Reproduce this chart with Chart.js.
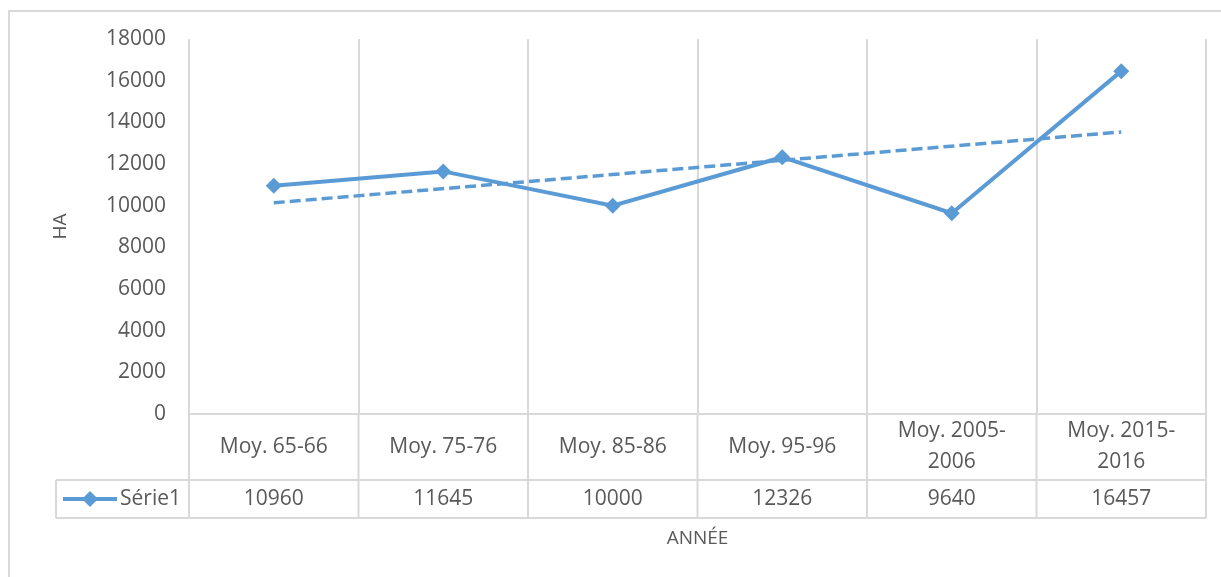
<!DOCTYPE html>
<html>
<head>
<meta charset="utf-8">
<script src="https://cdn.jsdelivr.net/npm/chart.js@4/dist/chart.umd.min.js"></script>
<style>
  body { margin: 0; background: #fff; }
  #wrap { width: 1221px; height: 577px; position: relative; }
</style>
</head>
<body>
<div id="wrap"><canvas id="chart"></canvas></div>
<script>
// Data
const CATEGORIES = ['Moy. 65-66', 'Moy. 75-76', 'Moy. 85-86', 'Moy. 95-96', ['Moy. 2005-', '2006'], ['Moy. 2015-', '2016']];
const SERIE1     = [10960, 11645, 10000, 12326, 9640, 16457];
const TREND      = [10138, null, null, null, null, 13538];   // linear trend line ends
const Y_TICKS    = [0, 2000, 4000, 6000, 8000, 10000, 12000, 14000, 16000, 18000];

const BLUE  = '#5B9BD5';
const TEXT  = '#595959';
const LINES = '#d9d9d9';
const FONT  = '"Open Sans", sans-serif';

// ── Excel-style data table under the plot ─────────────────────────
const tablePlugin = {
  id: 'dataTable',
  beforeDraw(chart) {
    const ctx = chart.ctx;
    ctx.save();
    ctx.strokeStyle = LINES;
    ctx.lineWidth = 2;
    ctx.strokeRect(9, 11, 1240, 620);
    ctx.restore();
  },
  afterDraw(chart) {
    const ctx = chart.ctx;
    const xs = chart.scales.x;
    const area = chart.chartArea;
    const n = CATEGORIES.length;
    const step = (area.right - area.left) / n;
    const rowTop = area.bottom, rowMid = 480, rowBot = 518;

    ctx.save();
    ctx.strokeStyle = LINES;
    ctx.lineWidth = 2;
    // horizontal rules
    ctx.beginPath();
    ctx.moveTo(area.left, rowTop); ctx.lineTo(area.right, rowTop);
    ctx.moveTo(56, rowMid);        ctx.lineTo(area.right, rowMid);
    ctx.moveTo(56, rowBot);        ctx.lineTo(area.right, rowBot);
    // vertical rules below the plot
    for (let i = 0; i <= n; i++) {
      const x = area.left + i * step;
      ctx.moveTo(x, rowTop); ctx.lineTo(x, rowBot);
    }
    ctx.moveTo(56, rowMid); ctx.lineTo(56, rowBot);
    ctx.stroke();

    // category labels and values
    ctx.fillStyle = TEXT;
    ctx.font = '21px ' + FONT;
    ctx.textAlign = 'center';
    ctx.textBaseline = 'middle';
    const lh = 31;
    CATEGORIES.forEach((c, i) => {
      const x = xs.getPixelForValue(i);
      const lines = Array.isArray(c) ? c : [c];
      const y0 = (rowTop + rowMid) / 2 - (lines.length - 1) * lh / 2;
      lines.forEach((t, k) => ctx.fillText(t, x, y0 + k * lh));
      ctx.fillText(String(SERIE1[i]), x, (rowMid + rowBot) / 2);
    });

    // legend key
    const ly = (rowMid + rowBot) / 2;
    ctx.strokeStyle = BLUE;
    ctx.lineWidth = 4;
    ctx.beginPath(); ctx.moveTo(63, ly); ctx.lineTo(117, ly); ctx.stroke();
    ctx.fillStyle = BLUE;
    ctx.beginPath();
    ctx.moveTo(90, ly - 8); ctx.lineTo(98, ly); ctx.lineTo(90, ly + 8); ctx.lineTo(82, ly);
    ctx.closePath(); ctx.fill();
    ctx.fillStyle = TEXT;
    ctx.textAlign = 'right';
    ctx.fillText('Série1', 181, ly);
    ctx.restore();
  }
};

new Chart(document.getElementById('chart'), {
  type: 'line',
  data: {
    labels: CATEGORIES,
    datasets: [
      {
        label: 'Série1',
        data: SERIE1,
        borderColor: BLUE,
        backgroundColor: BLUE,
        borderWidth: 4,
        pointStyle: 'rectRot',
        pointRadius: 8,
        pointHoverRadius: 8,
        pointBorderWidth: 0,
        tension: 0,
        order: 1
      },
      {
        label: 'Tendance',
        data: TREND,
        spanGaps: true,
        borderColor: BLUE,
        borderWidth: 3.5,
        borderDash: [11, 5],
        pointRadius: 0,
        tension: 0,
        order: 2
      }
    ]
  },
  options: {
    responsive: true,
    maintainAspectRatio: false,
    animation: false,
    layout: { padding: { left: 0, top: 39, right: 15, bottom: 0 } },
    plugins: { legend: { display: false }, tooltip: { enabled: false } },
    scales: {
      x: {
        offset: true,
        grid: { offset: true, color: LINES, lineWidth: 2, drawTicks: false },
        border: { display: false },
        ticks: { display: false },
        title: { display: true, text: 'ANNÉE', color: TEXT, font: { family: FONT, size: 19 }, padding: { top: 0, bottom: 27 } },
        afterFit: s => { s.height = 163; }
      },
      y: {
        min: 0,
        max: 18000,
        afterBuildTicks: s => { s.ticks = Y_TICKS.map(v => ({ value: v })); },
        grid: { display: false, drawTicks: false },
        border: { display: false },
        ticks: { color: TEXT, padding: 23, font: { family: FONT, size: 21 }, callback: v => String(v) },
        title: { display: true, text: 'HA', color: TEXT, font: { family: FONT, size: 19 }, padding: { top: 49, bottom: 0 } },
        afterFit: s => { s.width = 189; }
      }
    }
  },
  plugins: [tablePlugin]
});
</script>
</body>
</html>
